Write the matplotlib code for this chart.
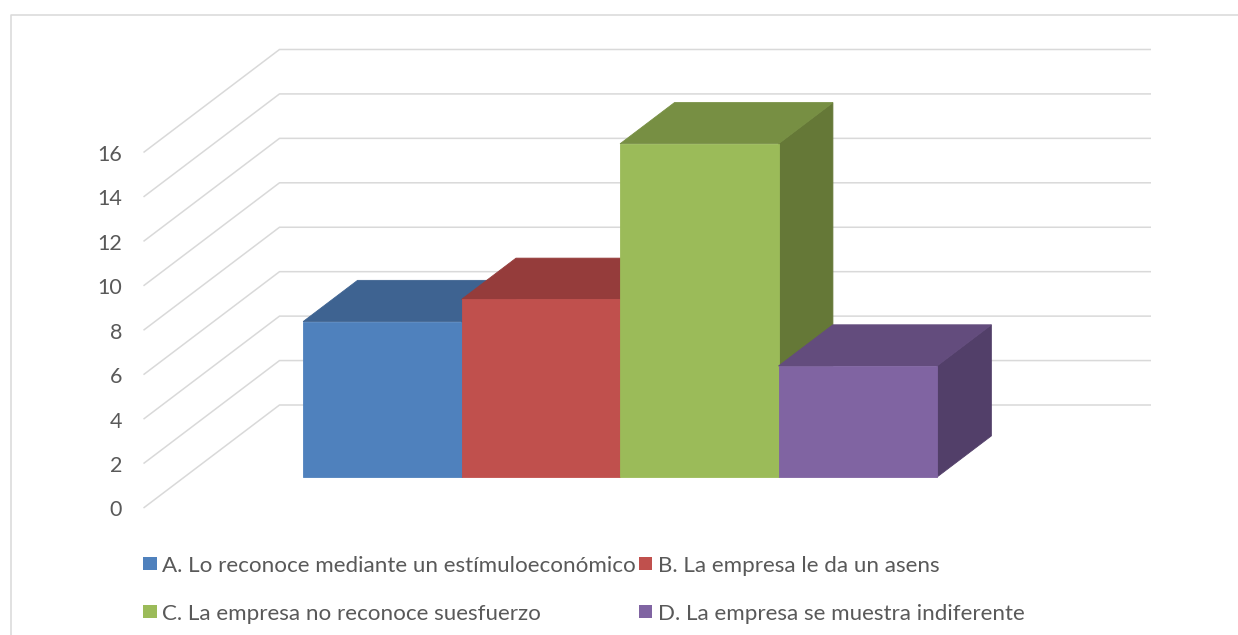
import matplotlib
matplotlib.use("Agg")
import matplotlib.pyplot as plt
from matplotlib.patches import Polygon, Rectangle

# ---- data ----
labels = [
    "A. Lo reconoce mediante un estímuloeconómico",
    "B. La empresa le da un asens",
    "C. La empresa no reconoce suesfuerzo",
    "D. La empresa se muestra indiferente",
]
values = [7, 8, 15, 5]
front_colors = ["#4F81BD", "#C0504D", "#9BBB59", "#8064A2"]
top_colors = ["#3E6391", "#953C3B", "#778F43", "#634C7D"]
side_colors = ["#34557D", "#7A3130", "#657837", "#523F69"]
y_ticks = [0, 2, 4, 6, 8, 10, 12, 14, 16]

# ---- geometry of the oblique 3-D frame ----
W_PX, H_PX = 1238, 635
PX_PER_UNIT = 22.22          # vertical pixels per value unit
BASE_PX = 508                # pixel row of value 0 on the front plane
DEPTH_DX = 136               # horizontal shift from front to back wall
DEPTH_DY = 103 / PX_PER_UNIT # vertical shift (value units) front -> back
FLOOR_X0 = 143.5
FLOOR_W = 871.5
GAP = 1.5                    # gap width as a fraction of a bar width
D_FRONT, D_BACK = 0.3, 0.7   # depth span of the columns

GRID = "#D9D9D9"
TEXT = "#595959"
FONT = "Lato"

fig = plt.figure(figsize=(W_PX / 100, H_PX / 100), dpi=100)
fig.patch.set_facecolor("white")

ax = fig.add_axes([0, 0, 1, 1])
ax.set_xlim(0, W_PX)
ax.set_ylim((BASE_PX - H_PX) / PX_PER_UNIT, BASE_PX / PX_PER_UNIT)
ax.axis("off")


def proj(x, v, d):
    return (x + DEPTH_DX * d, v + DEPTH_DY * d)


# walls: gridlines on the side wall and back wall
x_right = FLOOR_X0 + FLOOR_W
for t in y_ticks:
    p0 = proj(FLOOR_X0, t, 0)
    p1 = proj(FLOOR_X0, t, 1)
    p2 = proj(x_right, t, 1)
    ax.plot([p0[0], p1[0], p2[0]], [p0[1], p1[1], p2[1]],
            color=GRID, lw=1.1, solid_capstyle="butt", zorder=1)
    ax.text(122, t - 8.5 / PX_PER_UNIT, str(t), ha="right", va="baseline",
            fontsize=15.5, color=TEXT, family=FONT)

# columns, drawn left to right so nearer faces cover hidden ones
bar_w = FLOOR_W / (len(values) + GAP)
for i, v in enumerate(values):
    xl = FLOOR_X0 + bar_w * GAP / 2 + i * bar_w
    xr = xl + bar_w
    side = [proj(xr, 0, D_FRONT), proj(xr, 0, D_BACK),
            proj(xr, v, D_BACK), proj(xr, v, D_FRONT)]
    top = [proj(xl, v, D_FRONT), proj(xr, v, D_FRONT),
           proj(xr, v, D_BACK), proj(xl, v, D_BACK)]
    front = [proj(xl, 0, D_FRONT), proj(xr, 0, D_FRONT),
             proj(xr, v, D_FRONT), proj(xl, v, D_FRONT)]
    z = 2 + i
    ax.add_patch(Polygon(side, closed=True, facecolor=side_colors[i],
                         edgecolor=side_colors[i], lw=0.6, zorder=z))
    ax.add_patch(Polygon(top, closed=True, facecolor=top_colors[i],
                         edgecolor=top_colors[i], lw=0.6, zorder=z))
    ax.add_patch(Polygon(front, closed=True, facecolor=front_colors[i],
                         edgecolor=front_colors[i], lw=0.6, zorder=z))

# overlay in pixel coordinates for the legend and chart frame
ov = fig.add_axes([0, 0, 1, 1])
ov.set_xlim(0, W_PX)
ov.set_ylim(H_PX, 0)
ov.axis("off")
ov.patch.set_alpha(0)

ov.plot([11, 11, W_PX], [H_PX, 15, 15], color=GRID, lw=1.1, zorder=1)

legend_cols = [143.3, 639]
legend_rows = [571.7, 619.5]   # text baselines
sq = 13.4
for k, (lab, col) in enumerate(zip(labels, front_colors)):
    r, c = divmod(k, 2)
    x0 = legend_cols[c]
    base = legend_rows[r]
    ov.add_patch(Rectangle((x0, base - 14.7), sq, sq, facecolor=col,
                           edgecolor="none"))
    ov.text(x0 + sq + 5.3, base, lab, ha="left", va="baseline",
            fontsize=16.1, color=TEXT, family=FONT)

fig.savefig("out.png", dpi=100, facecolor="white")
